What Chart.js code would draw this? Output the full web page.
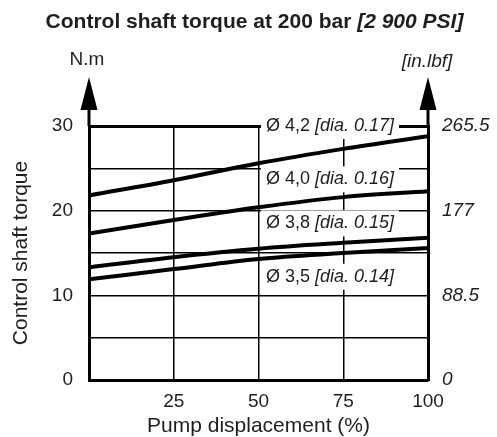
<!DOCTYPE html>
<html>
<head>
<meta charset="utf-8">
<script src="https://cdn.jsdelivr.net/npm/chart.js@4.4.1/dist/chart.umd.min.js"></script>
<style>
  html, body { margin: 0; padding: 0; background: #fff; }
  #wrap { width: 497px; height: 437px; }
</style>
</head>
<body>
<div id="wrap"><canvas id="torque" width="497" height="437"></canvas></div>
<script>
// Pump displacement (%) where the torque was read
const displacement = [0, 25, 50, 75, 100];

// Control shaft torque (N.m) for each orifice diameter
const torque42 = [21.8, 23.6, 25.6, 27.3, 28.8];
const torque40 = [17.3, 18.9, 20.4, 21.6, 22.3];
const torque38 = [13.3, 14.5, 15.5, 16.2, 16.8];
const torque35 = [11.9, 13.1, 14.3, 15.0, 15.6];

// Curve captions: metric diameter, then the inch value in italics
const diaMetric = ['Ø 4,2', 'Ø 4,0', 'Ø 3,8', 'Ø 3,5'];
const diaInch = ['[dia. 0.17]', '[dia. 0.16]', '[dia. 0.15]', '[dia. 0.14]'];

// Right-hand axis shows the same ticks in in.lbf
const inLbfTicks = ['0', '88.5', '177', '265.5'];

// Where each caption sits, in axis units (left edge of text, centre line)
const captionX = 52.2;
const captionY = [30, 23.7, 18.5, 12.2];

const FONT = 'Arial, "Liberation Sans", Helvetica, sans-serif';
const INK = '#1e1e1e';

Chart.defaults.font.family = FONT;
Chart.defaults.color = INK;

const series = [torque42, torque40, torque38, torque35].map(values => ({
  data: values.map((v, i) => ({ x: displacement[i], y: v })),
  borderColor: '#000',
  borderWidth: 4,
  pointRadius: 0,
  tension: 0.35,
  fill: false
}));

// Captions with white backing (they break the grid), axis arrows, units, title
const decorations = {
  id: 'decorations',
  beforeDatasetsDraw(chart) {
    const { ctx, scales: { x, y } } = chart;
    ctx.save();
    ctx.textBaseline = 'middle';
    diaMetric.forEach((m, i) => {
      const px = x.getPixelForValue(captionX);
      const py = y.getPixelForValue(captionY[i]);
      const head = m + ' ';
      ctx.font = '18px ' + FONT;
      const w1 = ctx.measureText(head).width;
      ctx.font = 'italic 18px ' + FONT;
      const w2 = ctx.measureText(diaInch[i]).width;
      ctx.fillStyle = '#fff';
      ctx.fillRect(px - 5, py - 13, w1 + w2 + 10, 26);
      ctx.fillStyle = INK;
      ctx.font = '18px ' + FONT;
      ctx.fillText(head, px, py);
      ctx.font = 'italic 18px ' + FONT;
      ctx.fillText(diaInch[i], px + w1, py);
    });
    ctx.restore();
  },
  afterDraw(chart) {
    const { ctx, chartArea: area } = chart;
    ctx.save();

    // arrows on top of both vertical axes
    [area.left, area.right].forEach(ax => {
      ctx.strokeStyle = '#000';
      ctx.lineWidth = 3;
      ctx.beginPath();
      ctx.moveTo(ax, area.top);
      ctx.lineTo(ax, area.top - 18);
      ctx.stroke();
      ctx.fillStyle = '#000';
      ctx.beginPath();
      ctx.moveTo(ax, area.top - 49);
      ctx.lineTo(ax - 8.5, area.top - 16);
      ctx.lineTo(ax + 8.5, area.top - 16);
      ctx.closePath();
      ctx.fill();
    });

    // unit labels above the arrows
    ctx.fillStyle = INK;
    ctx.textAlign = 'center';
    ctx.textBaseline = 'middle';
    ctx.font = '19px ' + FONT;
    ctx.fillText('N.m', area.left - 2, 60);
    ctx.font = 'italic 19px ' + FONT;
    ctx.fillText('[in.lbf]', area.right - 1, 62);

    // title: bold, with the PSI part in bold italic
    const t1 = 'Control shaft torque at 200 bar ';
    const t2 = '[2 900 PSI]';
    ctx.font = 'bold 21px ' + FONT;
    const w1 = ctx.measureText(t1).width;
    ctx.font = 'italic bold 21px ' + FONT;
    const w2 = ctx.measureText(t2).width;
    const start = chart.width / 2 + 6 - (w1 + w2) / 2;
    ctx.textAlign = 'left';
    ctx.font = 'bold 21px ' + FONT;
    ctx.fillText(t1, start, 22);
    ctx.font = 'italic bold 21px ' + FONT;
    ctx.fillText(t2, start + w1, 22);

    ctx.restore();
  }
};

new Chart(document.getElementById('torque'), {
  type: 'line',
  data: { datasets: series },
  options: {
    responsive: false,
    animation: false,
    layout: { padding: { top: 126, left: 0, right: 0, bottom: 0 } },
    plugins: {
      legend: { display: false },
      tooltip: { enabled: false },
      title: { display: false }
    },
    scales: {
      x: {
        type: 'linear',
        min: 0,
        max: 100,
        afterFit: scale => { scale.height = 57; },
        ticks: {
          stepSize: 25,
          padding: 10,
          font: { size: 19 },
          color: INK,
          callback: v => (v === 0 ? '' : v)
        },
        grid: { color: '#000', lineWidth: 1.5, drawTicks: false },
        border: { display: true, color: '#000', width: 3 },
        title: {
          display: true,
          text: 'Pump displacement (%)',
          font: { size: 21, lineHeight: 1 },
          color: INK,
          padding: 0
        }
      },
      y: {
        position: 'left',
        min: 0,
        max: 30,
        afterFit: scale => { scale.width = 89; },
        ticks: {
          stepSize: 5,
          padding: 16,
          font: { size: 19 },
          color: INK,
          callback: v => (v % 10 === 0 ? v : '')
        },
        grid: {
          color: '#000',
          drawTicks: false,
          lineWidth: c => (c.tick && c.tick.value === 30 ? 3 : 1.5)
        },
        border: { display: true, color: '#000', width: 3 },
        title: {
          display: true,
          text: 'Control shaft torque',
          font: { size: 21 },
          color: INK,
          padding: { top: 9, bottom: 0 }
        }
      },
      y2: {
        position: 'right',
        min: 0,
        max: 30,
        afterFit: scale => { scale.width = 69; },
        ticks: {
          stepSize: 10,
          padding: 14,
          font: { size: 19, style: 'italic' },
          color: INK,
          callback: v => inLbfTicks[Math.round(v / 10)]
        },
        grid: { display: false, drawTicks: false },
        border: { display: true, color: '#000', width: 3 }
      }
    }
  },
  plugins: [decorations]
});
</script>
</body>
</html>
